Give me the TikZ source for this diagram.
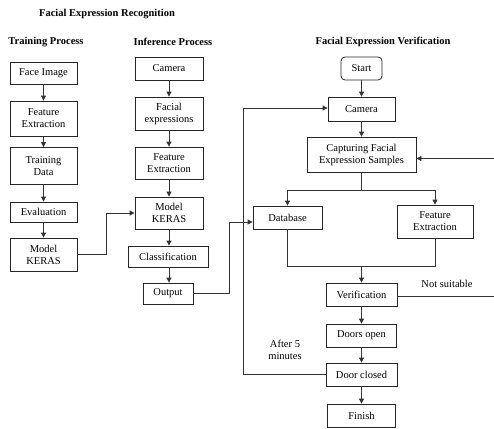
\documentclass[tikz,border=0pt]{standalone}
\usepackage{fontspec}
\setmainfont{Liberation Serif}
\usetikzlibrary{arrows.meta}
\begin{document}
\begin{tikzpicture}[x=1pt,y=-1pt,
  font=\fontsize{10.5}{12}\selectfont,
  box/.style={draw=black!85, line width=0.8pt, inner sep=0pt, align=center},
  title/.style={font=\fontsize{10.5}{12}\selectfont\bfseries},
  conn/.style={draw=black!80, line width=0.8pt},
  arr/.style={conn, -{Triangle[length=5pt,width=5pt]}}]
\useasboundingbox (0,0) rectangle (494,428);

% headings
\node[title] (hmain) at (107,14) {Facial Expression Recognition};
\node[title] (htrain) at (46,42) {Training Process};
\node[title] (hinf) at (173,42) {Inference Process};
\node[title] (hver) at (383,42) {Facial Expression Verification};

% training process
\node[box, minimum width=67pt, minimum height=22pt] (t1) at (43.5,73) {Face Image};
\node[box, minimum width=67pt, minimum height=35pt] (t2) at (43.5,118.5) {Feature\\Extraction};
\node[box, minimum width=67pt, minimum height=37pt] (t3) at (43.5,166) {Training\\Data};
\node[box, minimum width=67pt, minimum height=20pt] (t4) at (43.5,212) {Evaluation};
\node[box, minimum width=67pt, minimum height=33pt] (t5) at (43.5,254.5) {Model\\KERAS};

% inference process
\node[box, minimum width=68pt, minimum height=23pt] (i1) at (169,68.5) {Camera};
\node[box, minimum width=68pt, minimum height=33pt] (i2) at (169,113.5) {Facial\\expressions};
\node[box, minimum width=68pt, minimum height=32pt] (i3) at (169,163) {Feature\\Extraction};
\node[box, minimum width=68pt, minimum height=32pt] (i4) at (169,213) {Model\\KERAS};
\node[box, minimum width=80pt, minimum height=21pt] (i5) at (168,256.5) {Classification};
\node[box, minimum width=50pt, minimum height=21pt] (i6) at (168,293.5) {Output};

% verification process
\node[box, rounded corners=4pt, minimum width=41pt, minimum height=23pt] (v0) at (361.5,68.5) {Start};
\node[box, minimum width=67pt, minimum height=24pt] (v1) at (361.5,109) {Camera};
\node[box, minimum width=109pt, minimum height=35pt] (v2) at (361.5,154.5) {Capturing Facial\\Expression Samples};
\node[box, minimum width=69pt, minimum height=23pt] (v3) at (287.5,217.5) {Database};
\node[box, minimum width=76pt, minimum height=33pt] (v4) at (435,221.5) {Feature\\Extraction};
\node[box, minimum width=71pt, minimum height=23pt] (v5) at (361.5,294.5) {Verification};
\node[box, minimum width=70pt, minimum height=23pt] (v6) at (361.5,335.5) {Doors open};
\node[box, minimum width=71pt, minimum height=23pt] (v7) at (361.5,374.5) {Door closed};
\node[box, minimum width=68pt, minimum height=23pt] (v8) at (361.5,415.5) {Finish};

% labels
\node (lns) at (447,284) {Not suitable};
\node[align=center] (laf) at (285,349.5) {After 5\\minutes};

% training chain
\draw[arr] (t1) -- (t2);
\draw[arr] (t2) -- (t3);
\draw[arr] (t3) -- (t4);
\draw[arr] (t4) -- (t5);

% inference chain
\draw[arr] (i1) -- (i2);
\draw[arr] (i2) -- (i3);
\draw[arr] (i3) -- (i4);
\draw[arr] (i4.south -| i1) -- (i5.north -| i1);
\draw[arr] (i5.south -| i1) -- (i6.north -| i1);

% trained model feeds inference model
\coordinate (k1) at (106,254.5);
\draw[arr] (t5.east) -- (k1) |- (i4.west);

% inference output feeds database
\coordinate (o1) at (229,293.5);
\draw[arr] (i6.east) -- (o1) |- ([yshift=-4.5pt]v3.west);

% verification chain
\draw[arr] (v0) -- (v1);
\draw[arr] (v1) -- (v2);
\coordinate (s) at (361.5,190);
\draw[conn] (v2) -- (s);
\draw[arr] (s) -| (v3.north);
\draw[arr] (s) -| (v4.north);
\coordinate (j) at (361.5,266);
\draw[conn] (v3.south) |- (j);
\draw[conn] (v4.south) |- (j);
\draw[arr] (j) -- (v5);
\draw[arr] (v5) -- (v6);
\draw[arr] (v6) -- (v7);
\draw[arr] (v7) -- (v8);

% retry loop when not suitable
\coordinate (r1) at (494,296.5);
\coordinate (r2) at (494,158.5);
\draw[conn] ([yshift=-2pt]v5.east) -- (r1);
\draw[arr] (r2) -- ([yshift=-4pt]v2.east);

% return to camera after closing
\coordinate (c1) at (243,374.5);
\draw[arr] (v7.west) -- (c1) |- ([yshift=1pt]v1.west);
\end{tikzpicture}
\end{document}
